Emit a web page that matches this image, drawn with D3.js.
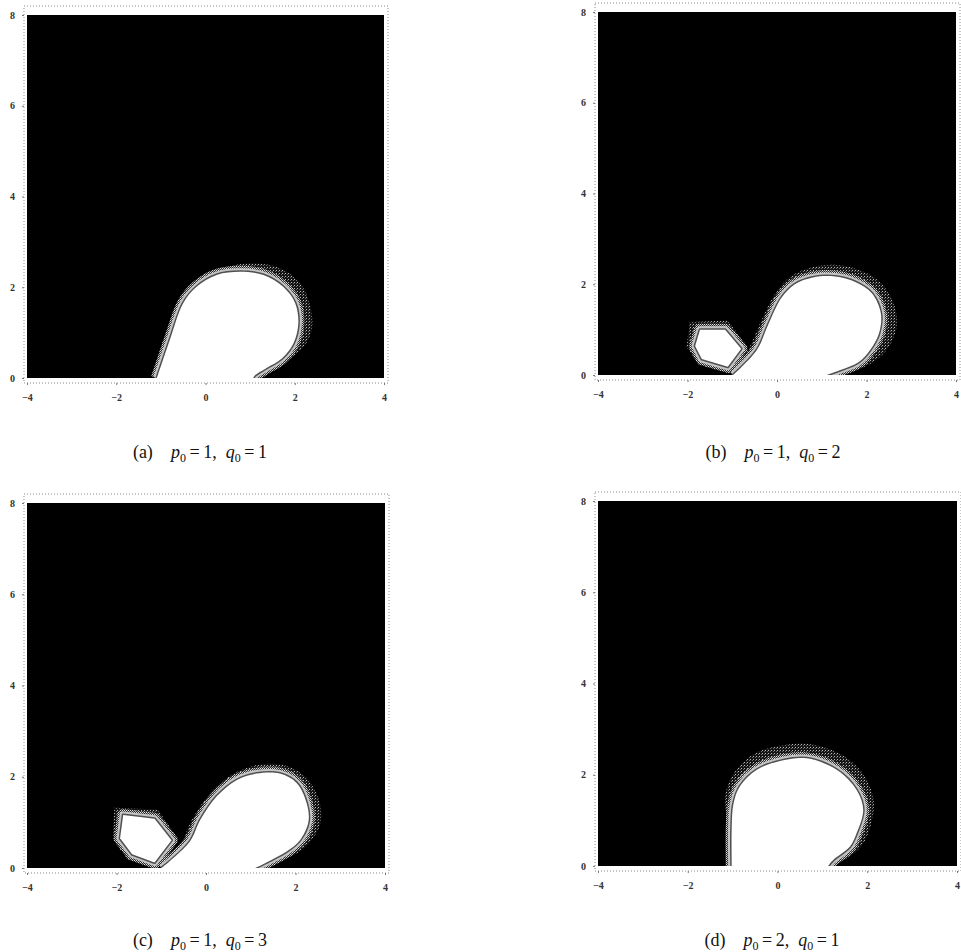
<!DOCTYPE html>
<html>
<head>
<meta charset="utf-8">
<script src="https://cdn.jsdelivr.net/npm/d3@7"></script>
<style>
  body { margin: 0; background: #fff; }
  svg { display: block; }
</style>
</head>
<body>
<svg width="961" height="952"></svg>
<script>
// axis ticks (same for all four plots)
const xTicks = [-4, -2, 0, 2, 4];
const yTicks = [0, 2, 4, 6, 8];
const xDomain = [-4, 4];
const yDomain = [0, 8];

// captions
const letters = ['a', 'b', 'c', 'd'];
const p0Values = [1, 1, 1, 2];
const q0Values = [1, 2, 3, 1];

// white region (inner contour) and grey fringe (outer contour)
const blobA = [[-1.09,0],[-0.8,0.84],[-0.5,1.65],[-0.2,2.01],[0.25,2.27],[0.77,2.34],[1.3,2.27],[1.74,2.01],[2.01,1.65],[2.08,1.2],[1.97,0.76],[1.71,0.43],[1.37,0.22],[1.11,0.06],[1.07,0]];
const fringeA = [[-1.17,0],[-1.0,0.69],[-0.53,1.72],[-0.12,2.23],[0.47,2.45],[1.07,2.53],[1.67,2.42],[2.12,2.09],[2.35,1.57],[2.38,1.06],[2.2,0.69],[1.9,0.43],[1.52,0.22],[1.15,0.04],[1.1,0]];

const blobB = [[-0.98,0],[-0.45,0.55],[-0.2,1.1],[0.1,1.7],[0.4,2.0],[0.8,2.15],[1.3,2.17],[1.75,2.05],[2.12,1.8],[2.32,1.36],[2.28,0.92],[2.08,0.55],[1.82,0.28],[1.45,0.12],[1.11,0]];
const fringeB = [[-1.0,0],[-0.62,0.6],[-0.35,1.2],[-0.05,1.78],[0.3,2.17],[0.8,2.38],[1.3,2.43],[1.8,2.33],[2.3,2.05],[2.6,1.6],[2.68,1.1],[2.5,0.62],[2.2,0.32],[1.8,0.12],[1.15,0]];
const hexB = [[-1.72,1.0],[-1.16,1.0],[-0.8,0.58],[-1.1,0.18],[-1.68,0.35],[-1.83,0.64]];
const hexFringeB = [[-1.95,1.17],[-1.1,1.2],[-0.66,0.62],[-1.05,0.04],[-1.75,0.22],[-2.02,0.62]];

const blobC = [[-0.99,0],[-0.36,0.58],[-0.13,1.05],[0.24,1.57],[0.69,1.93],[1.13,2.07],[1.65,2.07],[2.03,1.86],[2.25,1.42],[2.29,1.02],[2.1,0.61],[1.8,0.36],[1.43,0.16],[1.1,0]];
const fringeC = [[-1.02,0],[-0.55,0.55],[-0.32,1.05],[0.08,1.62],[0.6,2.06],[1.15,2.26],[1.75,2.25],[2.22,2.0],[2.52,1.5],[2.56,1.0],[2.35,0.6],[2.0,0.3],[1.6,0.13],[1.15,0]];
const hexC = [[-1.85,1.16],[-1.15,1.08],[-0.77,0.61],[-1.15,0.12],[-1.65,0.3],[-1.92,0.65]];
const hexFringeC = [[-2.05,1.32],[-1.08,1.28],[-0.62,0.64],[-1.08,0.0],[-1.75,0.18],[-2.08,0.62]];

const blobD = [[-1.02,0],[-1.02,0.86],[-0.98,1.37],[-0.84,1.74],[-0.46,2.11],[0.13,2.32],[0.65,2.36],[1.32,2.11],[1.76,1.67],[1.91,1.23],[1.76,0.71],[1.61,0.42],[1.24,0.13],[1.13,0]];
const fringeD = [[-1.06,0],[-1.1,0.85],[-1.17,1.5],[-0.98,2.02],[-0.5,2.47],[0.2,2.66],[0.8,2.66],[1.45,2.43],[1.92,2.0],[2.14,1.45],[2.08,0.9],[1.88,0.45],[1.5,0.14],[1.15,0]];

// which shapes go in which plot
const mainBlobs = [blobA, blobB, blobC, blobD];
const mainFringes = [fringeA, fringeB, fringeC, fringeD];
const hexBlobs = [null, hexB, hexC, null];
const hexFringes = [null, hexFringeB, hexFringeC, null];

// where each plot sits on the page
const layout = [
  { x0: 27, x1: 384, top: 15, bottom: 378, capX: 200, capY: 458 },
  { x0: 598, x1: 956, top: 12, bottom: 375, capX: 773, capY: 458 },
  { x0: 27, x1: 385, top: 503, bottom: 868, capX: 200, capY: 946 },
  { x0: 598, x1: 957, top: 501, bottom: 866, capX: 772, capY: 946 }
];

const serif = '"Liberation Serif", "Times New Roman", "DejaVu Serif", serif';

const svg = d3.select('svg');
const defs = svg.append('defs');

// halftone patterns for the grey contour bands
let sparse = defs.append('pattern')
  .attr('id', 'sparse').attr('width', 3).attr('height', 3)
  .attr('patternUnits', 'userSpaceOnUse');
sparse.append('rect').attr('width', 3).attr('height', 3).attr('fill', '#141414');
sparse.append('rect').attr('x', 0).attr('y', 0).attr('width', 1).attr('height', 1).attr('fill', '#b8b8b8');
sparse.append('rect').attr('x', 2).attr('y', 1).attr('width', 1).attr('height', 1).attr('fill', '#6a6a6a');

let dense = defs.append('pattern')
  .attr('id', 'dense').attr('width', 2).attr('height', 2)
  .attr('patternUnits', 'userSpaceOnUse');
dense.append('rect').attr('width', 2).attr('height', 2).attr('fill', '#2a2a2a');
dense.append('rect').attr('x', 0).attr('y', 0).attr('width', 1).attr('height', 1).attr('fill', '#e0e0e0');
dense.append('rect').attr('x', 1).attr('y', 1).attr('width', 1).attr('height', 1).attr('fill', '#a8a8a8');

layout.forEach((L, i) => {
  let x = d3.scaleLinear().domain(xDomain).range([L.x0, L.x1]);
  let y = d3.scaleLinear().domain(yDomain).range([L.bottom, L.top]);
  let g = svg.append('g');

  defs.append('clipPath').attr('id', 'clip' + i)
    .append('rect')
    .attr('x', x(xDomain[0])).attr('y', y(yDomain[1]))
    .attr('width', x(xDomain[1]) - x(xDomain[0]))
    .attr('height', y(yDomain[0]) - y(yDomain[1]));

  // dotted frame
  g.append('rect')
    .attr('x', L.x0 - 3).attr('y', L.top - 9)
    .attr('width', L.x1 - L.x0 + 7).attr('height', L.bottom - L.top + 14)
    .attr('fill', 'none').attr('stroke', '#8a8a8a')
    .attr('stroke-width', 1).attr('stroke-dasharray', '1,2');

  let plot = g.append('g').attr('clip-path', 'url(#clip' + i + ')');

  // black background (the dark contour level)
  plot.append('rect')
    .attr('x', x(xDomain[0])).attr('y', y(yDomain[1]))
    .attr('width', x(xDomain[1]) - x(xDomain[0]))
    .attr('height', y(yDomain[0]) - y(yDomain[1]))
    .attr('fill', '#000');

  let smooth = d3.line().x(d => x(d[0])).y(d => y(d[1])).curve(d3.curveCatmullRom.alpha(0.5));
  let poly = d3.line().x(d => x(d[0])).y(d => y(d[1])).curve(d3.curveLinearClosed);

  let drawShape = (inner, outer, lineGen) => {
    plot.append('path').attr('d', lineGen(outer)).attr('fill', 'url(#sparse)');
    plot.append('path').attr('d', lineGen(inner)).attr('fill', 'none')
      .attr('stroke', 'url(#dense)').attr('stroke-width', 12).attr('stroke-linejoin', 'round');
    plot.append('path').attr('d', lineGen(inner)).attr('fill', 'none')
      .attr('stroke', '#c4c4c4').attr('stroke-width', 7).attr('stroke-linejoin', 'round');
    plot.append('path').attr('d', lineGen(inner)).attr('fill', 'none')
      .attr('stroke', '#505050').attr('stroke-width', 3).attr('stroke-linejoin', 'round');
    plot.append('path').attr('d', lineGen(inner)).attr('fill', '#fff');
  };

  drawShape(mainBlobs[i], mainFringes[i], smooth);
  if (hexBlobs[i]) {
    drawShape(hexBlobs[i], hexFringes[i], poly);
  }

  // axes
  let yAxis = d3.axisLeft(y).tickValues(yTicks).tickFormat(d3.format('d')).tickSize(2).tickPadding(7);
  let xAxis = d3.axisBottom(x).tickValues(xTicks).tickFormat(d3.format('d')).tickSize(2).tickPadding(9);

  let ya = g.append('g').attr('transform', `translate(${L.x0 - 3},0)`).call(yAxis);
  let xa = g.append('g').attr('transform', `translate(0,${L.bottom + 5})`).call(xAxis);
  [ya, xa].forEach((a) => {
    a.select('.domain').remove();
    a.selectAll('line').attr('stroke', '#777');
    a.selectAll('text')
      .attr('fill', '#333')
      .style('font-family', serif)
      .style('font-size', '10px')
      .style('font-weight', 'bold');
  });

  // caption
  let cap = svg.append('text')
    .attr('x', L.capX).attr('y', L.capY)
    .attr('text-anchor', 'middle')
    .attr('fill', '#111')
    .style('font-family', serif)
    .style('font-size', '18px');
  cap.append('tspan').text('(' + letters[i] + ')\u2003');
  cap.append('tspan').style('font-style', 'italic').text('p');
  cap.append('tspan').attr('dy', 4).style('font-size', '12px').text('0');
  cap.append('tspan').attr('dy', -4).text('\u2009=\u2009' + p0Values[i] + ',\u2002');
  cap.append('tspan').style('font-style', 'italic').text('q');
  cap.append('tspan').attr('dy', 4).style('font-size', '12px').text('0');
  cap.append('tspan').attr('dy', -4).text('\u2009=\u2009' + q0Values[i]);
});
</script>
</body>
</html>
